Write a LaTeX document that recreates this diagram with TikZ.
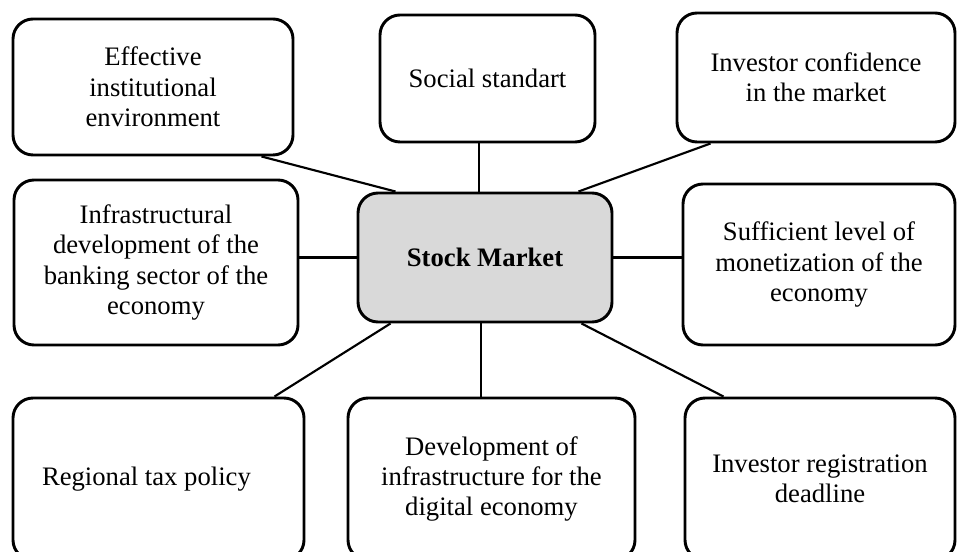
\documentclass[tikz,border=0pt]{standalone}
\usepackage{fontspec}
\setmainfont{Liberation Serif}
\usetikzlibrary{calc}
\begin{document}
\begin{tikzpicture}[x=0.75pt,y=-0.75pt,
  box/.style={draw=black,line width=2.2pt,rounded corners=15pt,align=center,
    font=\fontsize{20}{22.8}\selectfont,inner sep=2pt},
  hub/.style={box,fill=black!15,font=\fontsize{20}{22.8}\selectfont\bfseries},
  link/.style={line width=1.6pt}]
\useasboundingbox (0,0) rectangle (959,552);
\clip (0,0) rectangle (959,552);
\node[hub,minimum width=190.5pt,minimum height=96.75pt] (C) at (485,257.5) {Stock Market};
\node[box,minimum width=210pt,minimum height=102pt] (TL) at (153,87) {Effective\\institutional\\environment};
\node[box,minimum width=161.25pt,minimum height=95.25pt] (TC) at (487.5,78.5) {Social standart};
\node[box,minimum width=208.5pt,minimum height=96.75pt] (TR) at (816,77.5) {Investor confidence\\in the market};
\node[box,minimum width=213pt,minimum height=123.75pt] (ML) at (156,262.5) {Infrastructural\\development of the\\banking sector of the\\economy};
\node[box,minimum width=204pt,minimum height=120.75pt] (MR) at (819,264.5) {Sufficient level of\\monetization of the\\economy};
\node[box,minimum height=121.5pt,text width=174.75pt,inner xsep=21.75pt,align=flush left] (BL) at (158.5,479) {Regional tax policy};
\node[box,minimum width=215.25pt,minimum height=121.5pt] (BC) at (491.5,479) {Development of\\infrastructure for the\\digital economy};
\node[box,minimum width=202.5pt,minimum height=121.5pt] (BR) at (820,479) {Investor registration\\deadline};
\draw[link] ($(TL.south east)+(-33,0)$) -- ($(C.north west)+(39,0)$);
\draw[link] ($(TC.south)+(-8.5,0)$) -- ($(C.north)+(-6,0)$);
\draw[link] ($(TR.south west)+(35,0)$) -- ($(C.north east)+(-35,0)$);
\draw[link] (C.west) -- (C.west -| ML.east);
\draw[link] (C.east) -- (C.east -| MR.west);
\draw[link] ($(C.south west)+(34,0)$) -- ($(BL.north east)+(-31,0)$);
\draw[link] ($(C.south)+(-4,0)$) -- ($(BC.north)+(-10.5,0)$);
\draw[link] ($(C.south east)+(-32,0)$) -- ($(BR.north west)+(40,0)$);
\end{tikzpicture}
\end{document}
